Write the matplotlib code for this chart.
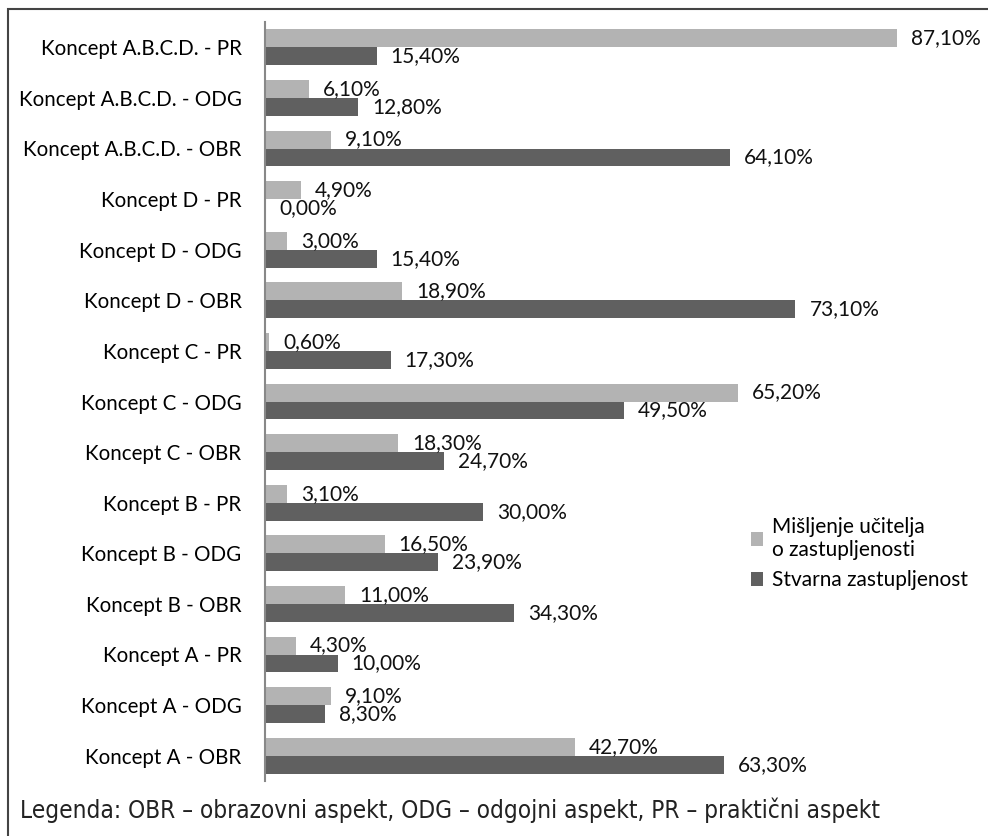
import matplotlib
matplotlib.use("Agg")
import matplotlib.pyplot as plt
import numpy as np
from matplotlib.patches import Rectangle

# kategorije odozgo prema dolje
kategorije = ["Koncept A.B.C.D. - PR", "Koncept A.B.C.D. - ODG", "Koncept A.B.C.D. - OBR",
              "Koncept D - PR", "Koncept D - ODG", "Koncept D - OBR",
              "Koncept C - PR", "Koncept C - ODG", "Koncept C - OBR",
              "Koncept B - PR", "Koncept B - ODG", "Koncept B - OBR",
              "Koncept A - PR", "Koncept A - ODG", "Koncept A - OBR"]
misljenje = [87.1, 6.1, 9.1, 4.9, 3.0, 18.9, 0.6, 65.2, 18.3, 3.1, 16.5, 11.0, 4.3, 9.1, 42.7]
stvarna = [15.4, 12.8, 64.1, 0.0, 15.4, 73.1, 17.3, 49.5, 24.7, 30.0, 23.9, 34.3, 10.0, 8.3, 63.3]
serije = ["Mišljenje učitelja\no zastupljenosti", "Stvarna zastupljenost"]

SVIJETLA = "#b3b3b3"
TAMNA = "#606060"
FONT = "Lato"

fig = plt.figure(figsize=(9.88, 8.36), dpi=100)
ax = fig.add_axes([265 / 988, 1 - 781 / 836, (960 - 265) / 988, (781 - 22) / 836])

n = len(kategorije)
y = np.arange(n)[::-1]
h = 0.355
b1 = ax.barh(y + h / 2, misljenje, height=h, color=SVIJETLA, label=serije[0])
b2 = ax.barh(y - h / 2, stvarna, height=h, color=TAMNA, label=serije[1])

def fmt(v):
    return f"{v:.2f}%".replace(".", ",")

for bars, vals in ((b1, misljenje), (b2, stvarna)):
    for r, v in zip(bars, vals):
        ax.annotate(fmt(v), (v, r.get_y() + r.get_height() / 2), xytext=(14, 0),
                    textcoords="offset pixels", va="center", ha="left",
                    fontsize=15, family=FONT, color="#111111")

ax.set_xlim(0, (960 - 265) / ((897 - 265) / 87.1))
ax.set_ylim(-0.5, n - 0.5)
ax.set_yticks(y)
ax.set_yticklabels(kategorije, fontsize=14.8, family=FONT)
ax.tick_params(axis="y", length=0, pad=17)
ax.set_xticks([])
for s in ["top", "right", "bottom"]:
    ax.spines[s].set_visible(False)
ax.spines["left"].set_color("#888888")
ax.spines["left"].set_linewidth(1.5)

leg = ax.legend(loc="upper left", bbox_to_anchor=((732 - 265) / 695, 1 - (498 - 22) / 759),
                frameon=False, prop={"family": FONT, "size": 15},
                handlelength=0.6, handleheight=0.6, handletextpad=0.4, labelspacing=0.5)

# okvir oko cijele slike
fig.patches.append(Rectangle((8 / 988, -0.1), 1.2, 1 - 9 / 836 + 0.1, transform=fig.transFigure,
                             fill=False, edgecolor="#444444", linewidth=1.5, clip_on=False))

fig.text(20 / 988, 1 - 810 / 836,
         "Legenda: OBR – obrazovni aspekt, ODG – odgojni aspekt, PR – praktični aspekt",
         fontsize=17.5, family="DejaVu Sans", stretch="condensed", va="center", ha="left",
         color="#222222")

fig.savefig("out.png", dpi=100)
